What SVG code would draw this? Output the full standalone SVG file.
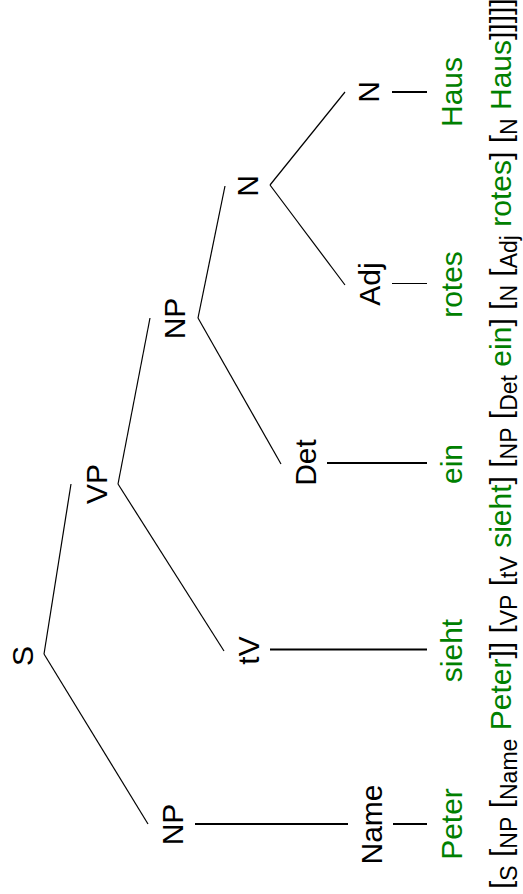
<svg xmlns="http://www.w3.org/2000/svg" width="523" height="894" viewBox="0 0 523 894">
  <style>
    text { font-family: "Liberation Sans", Arial, sans-serif; }
    .cat { font-size: 30px; fill: #000; text-anchor: middle; }
    .word { font-size: 30px; fill: #008000; text-anchor: middle; }
    .edge { stroke: #000; stroke-width: 1.2; fill: none; }
    .stem { stroke: #000; stroke-width: 2; fill: none; }
    .gloss { font-size: 30px; fill: #000; }
    .g { fill: #008000; }
    .sub { font-size: 23px; }
  </style>
  <rect width="523" height="894" fill="#fff"/>

  <!-- connectors: branches between categories and stems down to the words -->
  <g id="connectors">
    <line class="edge" x1="44" y1="654" x2="71" y2="484"/>
    <line class="edge" x1="44" y1="654" x2="148" y2="824"/>
    <line class="edge" x1="118" y1="484" x2="150" y2="318"/>
    <line class="edge" x1="118" y1="484" x2="224" y2="651"/>
    <line class="edge" x1="198" y1="318" x2="225" y2="186"/>
    <line class="edge" x1="198" y1="318" x2="281" y2="464"/>
    <line class="edge" x1="270" y1="185" x2="345" y2="92"/>
    <line class="edge" x1="270" y1="185" x2="345" y2="285"/>
    <line class="stem" x1="195" y1="824" x2="348" y2="824"/>
    <line class="stem" x1="393" y1="824" x2="427" y2="824"/>
    <line class="stem" x1="270" y1="649.5" x2="427" y2="649.5"/>
    <line class="stem" x1="327" y1="463" x2="427" y2="463"/>
    <line class="edge" x1="392" y1="283.5" x2="427" y2="283.5"/>
    <line class="stem" x1="392" y1="92" x2="427" y2="92"/>
  </g>

  <!-- category nodes -->
  <g id="n-S"><text class="cat" transform="translate(33,656) rotate(-90)">S</text></g>
  <g id="n-NP1"><text class="cat" transform="translate(183,824.5) rotate(-90)">NP</text></g>
  <g id="n-Name"><text class="cat" transform="translate(382,824.5) rotate(-90)">Name</text></g>
  <g id="n-VP"><text class="cat" transform="translate(107,484) rotate(-90)">VP</text></g>
  <g id="n-tV"><text class="cat" transform="translate(259,650.5) rotate(-90)">tV</text></g>
  <g id="n-NP2"><text class="cat" transform="translate(185,318.5) rotate(-90)">NP</text></g>
  <g id="n-Det"><text class="cat" transform="translate(316,462.5) rotate(-90)">Det</text></g>
  <g id="n-N1"><text class="cat" transform="translate(258,186) rotate(-90)">N</text></g>
  <g id="n-Adj"><text class="cat" transform="translate(380,284) rotate(-90)">Adj</text></g>
  <g id="n-N2"><text class="cat" transform="translate(379,92) rotate(-90)">N</text></g>

  <!-- word leaves -->
  <g id="w-Peter"><text class="word" transform="translate(462,824) rotate(-90)">Peter</text></g>
  <g id="w-sieht"><text class="word" transform="translate(462,650.5) rotate(-90)">sieht</text></g>
  <g id="w-ein"><text class="word" transform="translate(462,464) rotate(-90)">ein</text></g>
  <g id="w-rotes"><text class="word" transform="translate(462,284.5) rotate(-90)">rotes</text></g>
  <g id="w-Haus"><text class="word" transform="translate(462,92) rotate(-90)">Haus</text></g>

  <!-- labelled bracketing -->
  <g id="bracketing">
    <text class="gloss" transform="translate(511,889) rotate(-90)">[<tspan class="sub" dy="6">S</tspan><tspan dy="-6"> [</tspan><tspan class="sub" dy="6">NP</tspan><tspan dy="-6"> [</tspan><tspan class="sub" dy="6">Name</tspan><tspan dy="-6"> </tspan><tspan class="g">Peter</tspan>]] [<tspan class="sub" dy="6">VP</tspan><tspan dy="-6"> [</tspan><tspan class="sub" dy="6">tV</tspan><tspan dy="-6"> </tspan><tspan class="g">sieht</tspan>] [<tspan class="sub" dy="6">NP</tspan><tspan dy="-6"> [</tspan><tspan class="sub" dy="6">Det</tspan><tspan dy="-6"> </tspan><tspan class="g">ein</tspan>] [<tspan class="sub" dy="6">N</tspan><tspan dy="-6"> [</tspan><tspan class="sub" dy="6">Adj</tspan><tspan dy="-6"> </tspan><tspan class="g">rotes</tspan>] [<tspan class="sub" dy="6">N</tspan><tspan dy="-6"> </tspan><tspan class="g">Haus</tspan>]]]]]</text>
  </g>
</svg>
